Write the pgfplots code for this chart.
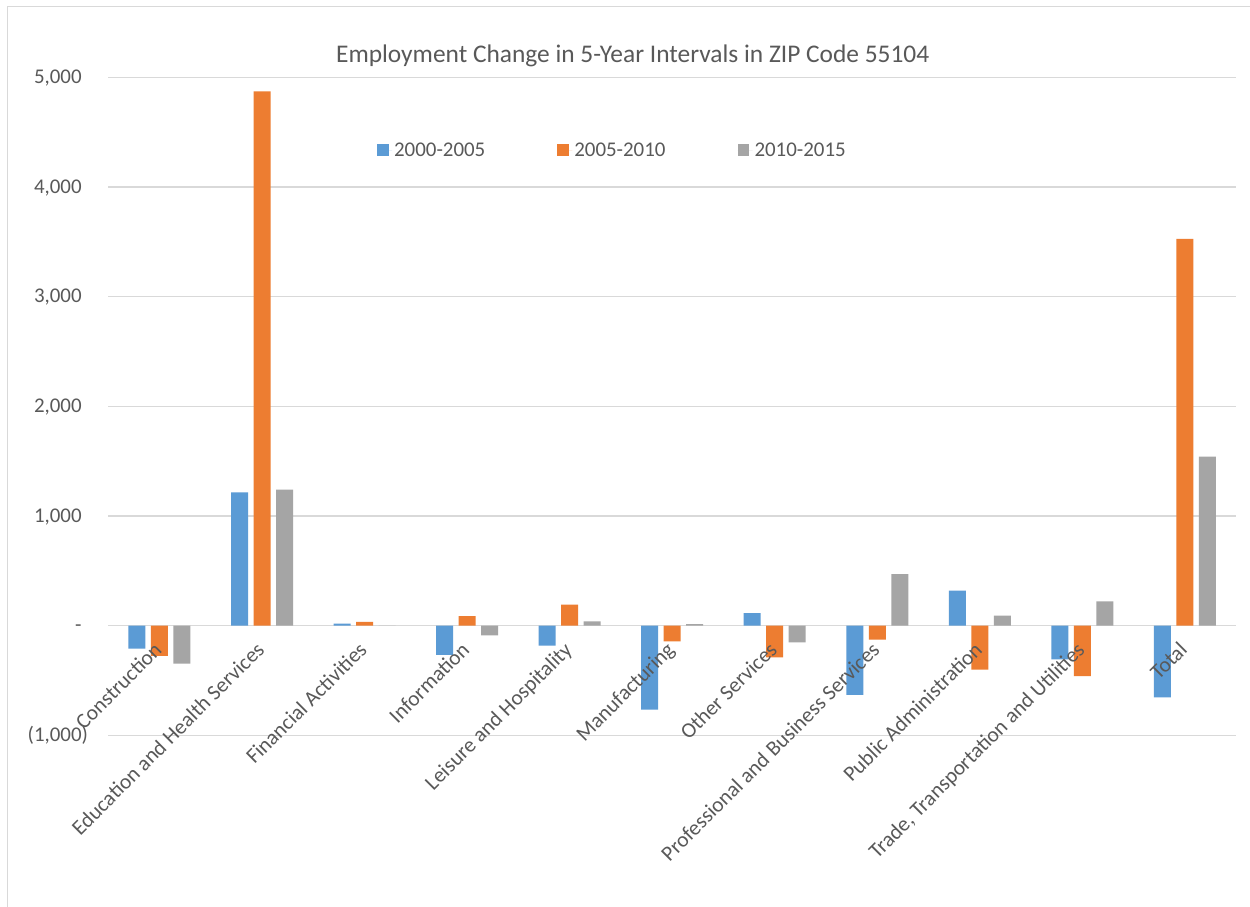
\documentclass[border=0pt]{standalone}
\usepackage{pgfplots}
\pgfplotsset{compat=1.18}
\usepackage{fontspec}
\setmainfont{Carlito}
\definecolor{cblue}{HTML}{5B9BD5}
\definecolor{corange}{HTML}{ED7D31}
\definecolor{cgray}{HTML}{A5A5A5}
\definecolor{ctext}{HTML}{595959}
\definecolor{cgrid}{HTML}{D9D9D9}
\begin{document}
\begin{tikzpicture}[x=1bp,y=1bp]
\begin{axis}[
  set layers, clip=false,
  at={(105.5,156.5)}, anchor=south west, scale only axis,
  width=1128bp, height=658bp,
  xmin=-0.5, xmax=10.5, ymin=-1000, ymax=5000,
  axis x line=middle, axis y line=left,
  axis line style={draw=none},
  hide obscured x ticks=false, hide obscured y ticks=false,
  major tick length=0pt,
  ybar=5.5bp, bar width=17bp,
  ymajorgrids, grid style={cgrid, line width=1.3bp},
  xtick={0,...,10},
  xticklabels={Construction, Education and Health Services, Financial Activities, Information, Leisure and Hospitality, Manufacturing, Other Services, Professional and Business Services, Public Administration, {Trade, Transportation and Utilities}, Total},
  x tick label style={/pgfplots/on layer=axis foreground, xshift=-7bp, yshift=-12bp, rotate=45, anchor=north east, inner sep=2bp, font=\fontsize{21.5}{25}\selectfont, text=ctext},
  ytick={-1000,0,1000,2000,3000,4000,5000},
  yticklabels={{(1,000)}, {-\phantom{)}}, {1,000\phantom{)}}, {2,000\phantom{)}}, {3,000\phantom{)}}, {4,000\phantom{)}}, {5,000\phantom{)}}},
  y tick label style={anchor=east, inner sep=0pt, xshift=-20bp, font=\fontsize{21}{25}\selectfont, text=ctext},
  title={Employment Change in 5-Year Intervals in ZIP Code 55104},
  title style={at={(0.465,1.0243)}, anchor=center, font=\fontsize{25.5}{30}\selectfont, text=ctext},
  legend columns=3,
  legend style={at={(0.447,0.889)}, anchor=center, draw=none, fill=none,
    font=\fontsize{21}{25}\selectfont, text=ctext,
    /tikz/every even column/.append style={column sep=70bp}},
  legend image code/.code={\path (0bp,0bp) -- (15bp,0bp);\fill[#1] (0bp,-5.5bp) rectangle (11.5bp,6bp);},
]
\begin{pgfonlayer}{axis background}
\fill[white] (rel axis cs:-0.2,-0.4) rectangle (rel axis cs:1.2,1.3);
\end{pgfonlayer}
\addplot[fill=cblue, draw=none] coordinates {(0,-210) (1,1215) (2,20) (3,-265) (4,-182) (5,-766) (6,115) (7,-630) (8,319) (9,-307) (10,-654)};
\addplot[fill=corange, draw=none] coordinates {(0,-275) (1,4872) (2,35) (3,88) (4,192) (5,-143) (6,-289) (7,-128) (8,-401) (9,-459) (10,3528)};
\addplot[fill=cgray, draw=none] coordinates {(0,-345) (1,1240) (2,0) (3,-88) (4,40) (5,15) (6,-152) (7,471) (8,91) (9,222) (10,1542)};
\legend{2000-2005, 2005-2010, 2010-2015}
\end{axis}
\draw[cgrid, line width=1.5bp] (7.5,0) -- (7.5,900.5) -- (1250,900.5);
\pgfresetboundingbox
\path[use as bounding box] (0,0) rectangle (1250,907);
\end{tikzpicture}
\end{document}
